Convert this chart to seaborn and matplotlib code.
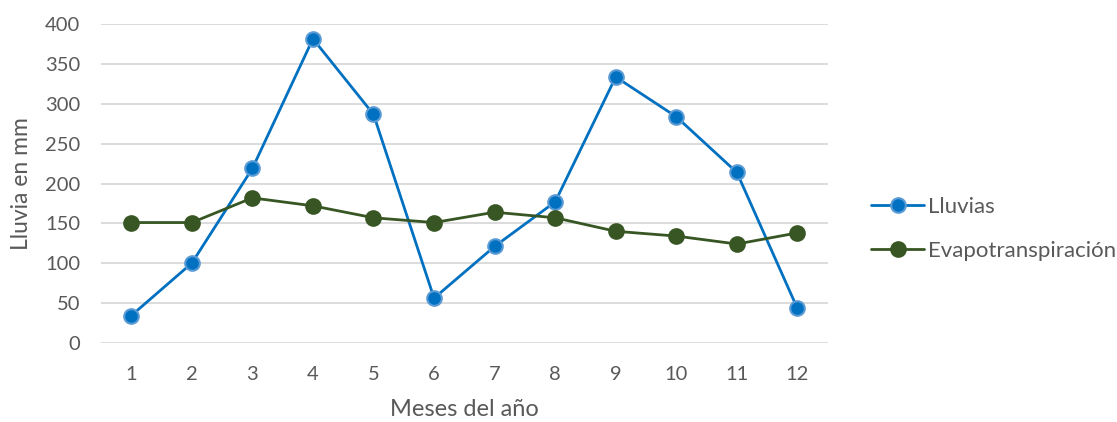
import matplotlib
matplotlib.use("Agg")
import matplotlib.pyplot as plt
import seaborn as sns
import pandas as pd

meses = [1, 2, 3, 4, 5, 6, 7, 8, 9, 10, 11, 12]
lluvias = [34, 100, 219, 382, 287, 56, 121, 177, 334, 284, 214, 43]
evapotranspiracion = [151, 151, 182, 172, 157, 151, 164, 157, 140, 134, 124, 138]
y_ticks = [0, 50, 100, 150, 200, 250, 300, 350, 400]

sns.set_theme(style="white")
plt.rcParams["font.family"] = ["Lato", "DejaVu Sans"]

text_color = "#595959"
grid_color = "#d9d9d9"

fig = plt.figure(figsize=(11.17, 4.22), dpi=100)
ax = fig.add_axes([0.0904, 0.188, 0.6506, 0.754])

df = pd.DataFrame({"mes": meses, "Lluvias": lluvias,
                   "Evapotranspiración": evapotranspiracion})

sns.lineplot(data=df, x="mes", y="Lluvias", ax=ax, color="#0070C0",
             linewidth=2, marker="o", markersize=10.5,
             markerfacecolor="#0070C0", markeredgecolor="#5B9BD5",
             markeredgewidth=1.5, label="Lluvias", zorder=3)
sns.lineplot(data=df, x="mes", y="Evapotranspiración", ax=ax, color="#375623",
             linewidth=2, marker="o", markersize=10.5,
             markerfacecolor="#375623", markeredgecolor="#375623",
             markeredgewidth=1.5, label="Evapotranspiración", zorder=3)

ax.set_xlim(0.5, 12.5)
ax.set_ylim(0, 400)
ax.set_xticks(meses)
ax.set_xticklabels([str(m) for m in meses])
ax.set_yticks(y_ticks)
ax.set_yticklabels([str(v) for v in y_ticks])
ax.yaxis.grid(True, color=grid_color, linewidth=1.3)
ax.set_axisbelow(True)
for s in ax.spines.values():
    s.set_visible(False)
ax.tick_params(axis="both", length=0, labelsize=14.5, colors=text_color)
ax.tick_params(axis="y", pad=15)
ax.tick_params(axis="x", pad=17)

ax.set_xlabel("Meses del año", fontsize=17, color=text_color, labelpad=11)
ax.set_ylabel("Lluvia en mm", fontsize=16.5, color=text_color, labelpad=9)

leg = ax.legend(loc="center left", bbox_to_anchor=(0.762, 0.458),
                bbox_transform=fig.transFigure, frameon=False,
                fontsize=16, handlelength=2.4, handletextpad=0.15,
                labelspacing=1.1, labelcolor=text_color)

fig.savefig("out.png", dpi=100, facecolor="white")
